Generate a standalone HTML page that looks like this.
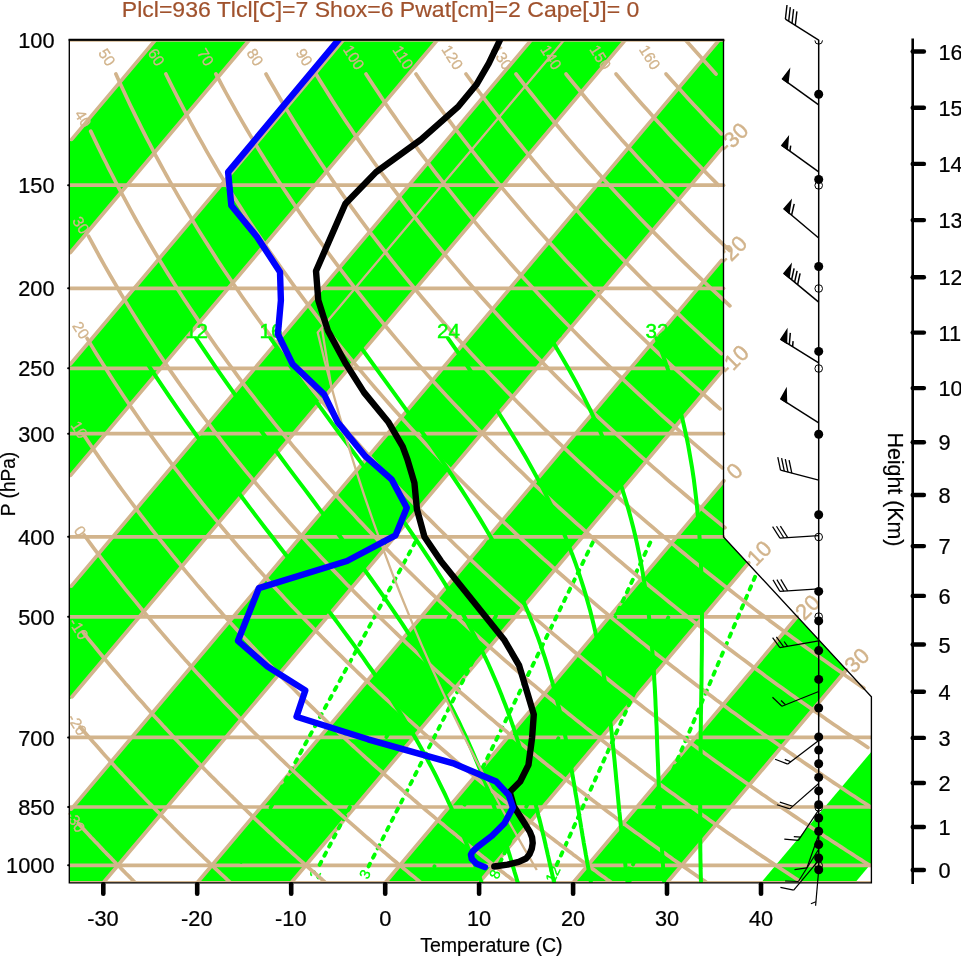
<!DOCTYPE html>
<html><head><meta charset="utf-8"><title>Skew-T</title><style>html,body{margin:0;padding:0;background:#fff}svg{display:block}</style></head><body>
<svg width="961" height="957" viewBox="0 0 961 957" font-family="Liberation Sans, sans-serif">
<rect width="961" height="957" fill="#fff"/>
<defs>
<clipPath id="cf"><polygon points="69.3,882.8 69.3,39.8 723.5,39.8 723.5,536.9 871.4,696.7 871.4,882.8"/></clipPath>
<clipPath id="cl"><polygon points="69.3,882.8 69.3,39.8 725.7,39.8 725.7,536.4 871.4,693.8 871.4,882.8"/></clipPath>
<clipPath id="cr"><rect x="69.3" y="39.8" width="802.1" height="843.0"/></clipPath>
</defs>
<g clip-path="url(#cf)" fill="#00ff00">
<polygon points="-742.4,882.8 -32.3,39.8 61.6,39.8 -648.4,882.8"/>
<polygon points="-554.4,882.8 155.6,39.8 249.5,39.8 -460.5,882.8"/>
<polygon points="-366.5,882.8 343.5,39.8 437.5,39.8 -272.6,882.8"/>
<polygon points="-178.6,882.8 531.4,39.8 625.4,39.8 -84.6,882.8"/>
<polygon points="9.3,882.8 719.3,39.8 813.3,39.8 103.3,882.8"/>
<polygon points="197.2,882.8 907.3,39.8 1001.2,39.8 291.2,882.8"/>
<polygon points="385.2,882.8 1095.2,39.8 1189.1,39.8 479.1,882.8"/>
<polygon points="573.1,882.8 1283.1,39.8 1377.1,39.8 667.0,882.8"/>
<polygon points="761.0,882.8 1471.0,39.8 1565.0,39.8 855.0,882.8"/>
</g>
<g clip-path="url(#cr)" fill="none" stroke="#d2b48c" stroke-width="3.7" stroke-linecap="round" stroke-linejoin="round">
<path d="M69.3 882.8H871.4"/>
<path d="M69.3 865.3H871.4"/>
<path d="M69.3 807.0H871.4"/>
<path d="M69.3 737.4H871.4"/>
<path d="M69.3 616.8H797.1"/>
<path d="M69.3 536.8H723.5"/>
<path d="M69.3 433.7H723.5"/>
<path d="M69.3 368.3H723.5"/>
<path d="M69.3 288.3H723.5"/>
<path d="M69.3 185.2H723.5"/>
<path d="M69.3 39.8H723.5"/>
<path d="M71.7 139.4L155.6 39.8"/>
<path d="M70.4 252.5L249.5 39.8"/>
<path d="M70.5 364.0L343.5 39.8"/>
<path d="M70.6 475.4L437.5 39.8"/>
<path d="M71.3 586.1L531.4 39.8"/>
<path d="M72.0 696.8L625.4 39.8"/>
<path d="M71.3 809.1L719.3 39.8"/>
<path d="M103.3 882.8L722.7 147.4"/>
<path d="M197.2 882.8L721.5 260.4"/>
<path d="M291.2 882.8L723.3 369.7"/>
<path d="M385.2 882.8L723.9 480.7"/>
<path d="M479.1 882.8L748.7 562.7"/>
<path d="M573.1 882.8L797.1 616.8"/>
<path d="M667.0 882.8L846.3 670.0"/>
</g>
<g fill="#d2b48c" font-size="22" text-anchor="middle" stroke="#d2b48c" stroke-width="0.45">
<text transform="translate(733.2 137.7) rotate(-45)" dy="7.6">-30</text>
<text transform="translate(732.0 250.7) rotate(-45)" dy="7.6">-20</text>
<text transform="translate(733.8 360.0) rotate(-45)" dy="7.6">-10</text>
<text transform="translate(734.4 471.0) rotate(-45)" dy="7.6">0</text>
<text transform="translate(759.2 553.0) rotate(-45)" dy="7.6">10</text>
<text transform="translate(807.6 607.1) rotate(-45)" dy="7.6">20</text>
<text transform="translate(856.8 660.3) rotate(-45)" dy="7.6">30</text>
</g>
<g clip-path="url(#cr)" fill="none" stroke="#00ff00" stroke-linecap="round" stroke-width="3.9" stroke-dasharray="3.5 6.8" stroke-dashoffset="4.1">
<path d="M757.5 571.0L632.2 866.4"/>
<path d="M704.7 536.8L556.0 866.4"/>
<path d="M652.9 536.8L498.3 866.4"/>
<path d="M595.5 536.8L434.4 866.4"/>
<path d="M536.1 536.8L368.6 866.4"/>
<path d="M491.1 536.8L318.8 866.4"/>
<path d="M418.2 536.8L238.6 866.4"/>
</g>
<g fill="#00ff00" font-size="14.5" text-anchor="middle" clip-path="url(#cf)" stroke="#00ff00" stroke-width="0.3">
<text transform="translate(629.0 874.2) rotate(-65)" dy="5.2">20</text>
<text transform="translate(552.7 874.2) rotate(-65)" dy="5.2">12</text>
<text transform="translate(494.8 874.2) rotate(-65)" dy="5.2">8</text>
<text transform="translate(430.8 874.2) rotate(-65)" dy="5.2">5</text>
<text transform="translate(364.8 874.2) rotate(-65)" dy="5.2">3</text>
<text transform="translate(314.9 874.2) rotate(-65)" dy="5.2">2</text>
<text transform="translate(234.5 874.2) rotate(-65)" dy="5.2">1</text>
</g>
<g clip-path="url(#cr)" fill="none" stroke="#d2b48c" stroke-width="3.7" stroke-linecap="round" stroke-linejoin="round">
<path d="M78.4 823.5L80.2 825.5L82.1 827.5L83.9 829.5L85.7 831.5L87.6 833.5L89.4 835.4L91.2 837.4L93.0 839.3L94.8 841.2L96.7 843.1L98.5 845.0L100.3 846.9L102.0 848.8L103.8 850.7L105.6 852.5L107.4 854.4L109.2 856.2L111.0 858.1L112.7 859.9L114.5 861.7L116.2 863.5L118.0 865.3L119.8 867.1L121.5 868.9L123.2 870.6L125.0 872.4L126.7 874.2L128.5 875.9L130.2 877.6L131.9 879.4L133.6 881.1L135.3 882.8"/>
<path d="M80.2 727.0L82.5 729.7L84.7 732.3L87.0 734.9L89.2 737.4L91.4 740.0L93.6 742.5L95.9 745.0L98.1 747.5L100.3 750.0L102.4 752.5L104.6 754.9L106.8 757.4L109.0 759.8L111.1 762.2L113.3 764.6L115.4 766.9L117.6 769.3L119.7 771.6L121.9 773.9L124.0 776.2L126.1 778.5L128.2 780.8L130.3 783.1L132.4 785.3L134.5 787.5L136.6 789.8L138.7 792.0L140.8 794.2L142.8 796.3L144.9 798.5L147.0 800.7L149.0 802.8L151.1 804.9L153.1 807.0L155.2 809.1L157.2 811.2L159.2 813.3L161.2 815.4L163.2 817.4L165.3 819.5L167.3 821.5L169.3 823.5L171.3 825.5L173.2 827.5L175.2 829.5L177.2 831.5L179.2 833.5L181.1 835.4L183.1 837.4L185.1 839.3L187.0 841.2L189.0 843.1L190.9 845.0L192.8 846.9L194.8 848.8L196.7 850.7L198.6 852.5L200.6 854.4L202.5 856.2L204.4 858.1L206.3 859.9L208.2 861.7L210.1 863.5L212.0 865.3L213.9 867.1L215.7 868.9L217.6 870.6L219.5 872.4L221.3 874.2L223.2 875.9L225.1 877.6L226.9 879.4L228.8 881.1L230.6 882.8"/>
<path d="M83.1 632.3L85.8 635.7L88.5 639.1L91.2 642.4L93.9 645.7L96.6 649.0L99.3 652.3L101.9 655.5L104.6 658.7L107.2 661.9L109.8 665.0L112.5 668.2L115.1 671.3L117.7 674.3L120.3 677.4L122.9 680.4L125.4 683.4L128.0 686.3L130.5 689.3L133.1 692.2L135.6 695.1L138.1 698.0L140.7 700.8L143.2 703.6L145.7 706.4L148.2 709.2L150.6 712.0L153.1 714.7L155.6 717.4L158.0 720.1L160.5 722.8L162.9 725.5L165.4 728.1L167.8 730.7L170.2 733.3L172.6 735.9L175.0 738.5L177.4 741.0L179.8 743.5L182.2 746.0L184.6 748.5L186.9 751.0L189.3 753.5L191.6 755.9L194.0 758.3L196.3 760.7L198.6 763.1L200.9 765.5L203.2 767.9L205.5 770.2L207.8 772.5L210.1 774.9L212.4 777.2L214.7 779.4L217.0 781.7L219.2 784.0L221.5 786.2L223.7 788.4L226.0 790.6L228.2 792.8L230.4 795.0L232.7 797.2L234.9 799.4L237.1 801.5L239.3 803.7L241.5 805.8L243.7 807.9L245.9 810.0L248.1 812.1L250.2 814.1L252.4 816.2L254.6 818.3L256.7 820.3L258.9 822.3L261.0 824.3L263.1 826.3L265.3 828.3L267.4 830.3L269.5 832.3L271.6 834.2L273.7 836.2L275.8 838.1L277.9 840.1L280.0 842.0L282.1 843.9L284.2 845.8L286.3 847.7L288.3 849.6L290.4 851.4L292.5 853.3L294.5 855.1L296.6 857.0L298.6 858.8L300.6 860.6L302.7 862.4L304.7 864.2L306.7 866.0L308.8 867.8L310.8 869.6L312.8 871.4L314.8 873.1L316.8 874.9L318.8 876.6L320.8 878.3L322.7 880.1L324.7 881.8"/>
<path d="M84.1 535.0L87.4 539.5L90.6 543.9L93.9 548.3L97.1 552.6L100.3 556.9L103.5 561.1L106.7 565.2L109.9 569.4L113.0 573.4L116.2 577.4L119.3 581.4L122.4 585.4L125.5 589.3L128.6 593.1L131.7 596.9L134.8 600.7L137.8 604.4L140.8 608.1L143.9 611.8L146.9 615.4L149.9 619.0L152.8 622.5L155.8 626.0L158.8 629.5L161.7 632.9L164.6 636.3L167.6 639.7L170.5 643.1L173.4 646.4L176.3 649.7L179.1 652.9L182.0 656.2L184.8 659.4L187.7 662.5L190.5 665.7L193.3 668.8L196.1 671.9L198.9 674.9L201.7 678.0L204.5 681.0L207.3 684.0L210.0 686.9L212.7 689.9L215.5 692.8L218.2 695.7L220.9 698.5L223.6 701.4L226.3 704.2L229.0 707.0L231.7 709.8L234.3 712.5L237.0 715.3L239.6 718.0L242.3 720.7L244.9 723.3L247.5 726.0L250.1 728.6L252.7 731.2L255.3 733.8L257.9 736.4L260.5 739.0L263.0 741.5L265.6 744.0L268.1 746.5L270.7 749.0L273.2 751.5L275.7 754.0L278.2 756.4L280.7 758.8L283.2 761.2L285.7 763.6L288.2 766.0L290.7 768.3L293.1 770.7L295.6 773.0L298.1 775.3L300.5 777.6L302.9 779.9L305.4 782.2L307.8 784.4L310.2 786.7L312.6 788.9L315.0 791.1L317.4 793.3L319.8 795.5L322.1 797.6L324.5 799.8L326.9 801.9L329.2 804.1L331.6 806.2L333.9 808.3L336.2 810.4L338.6 812.5L340.9 814.6L343.2 816.6L345.5 818.7L347.8 820.7L350.1 822.7L352.4 824.7L354.7 826.7L357.0 828.7L359.2 830.7L361.5 832.7L363.7 834.6L366.0 836.6L368.2 838.5L370.5 840.4L372.7 842.4L374.9 844.3L377.1 846.2L379.4 848.1L381.6 849.9L383.8 851.8L386.0 853.6L388.2 855.5L390.3 857.3L392.5 859.2L394.7 861.0L396.9 862.8L399.0 864.6L401.2 866.4L403.3 868.2L405.5 869.9L407.6 871.7L409.7 873.5L411.9 875.2L414.0 876.9L416.1 878.7L418.2 880.4L420.3 882.1"/>
<path d="M84.6 436.1L88.5 442.0L92.4 447.7L96.3 453.4L100.2 459.1L104.0 464.6L107.8 470.0L111.6 475.4L115.4 480.7L119.1 485.9L122.9 491.0L126.6 496.0L130.3 501.0L134.0 505.9L137.6 510.8L141.2 515.6L144.9 520.3L148.5 525.0L152.0 529.6L155.6 534.1L159.1 538.6L162.7 543.0L166.2 547.4L169.7 551.7L173.1 556.0L176.6 560.2L180.0 564.4L183.4 568.5L186.8 572.6L190.2 576.6L193.6 580.6L196.9 584.6L200.3 588.5L203.6 592.3L206.9 596.2L210.2 599.9L213.5 603.7L216.7 607.4L220.0 611.0L223.2 614.7L226.4 618.2L229.6 621.8L232.8 625.3L236.0 628.8L239.2 632.3L242.3 635.7L245.4 639.1L248.6 642.4L251.7 645.7L254.8 649.0L257.8 652.3L260.9 655.5L264.0 658.7L267.0 661.9L270.0 665.0L273.1 668.2L276.1 671.3L279.1 674.3L282.0 677.4L285.0 680.4L288.0 683.4L290.9 686.3L293.9 689.3L296.8 692.2L299.7 695.1L302.6 698.0L305.5 700.8L308.4 703.6L311.2 706.4L314.1 709.2L317.0 712.0L319.8 714.7L322.6 717.4L325.4 720.1L328.2 722.8L331.0 725.5L333.8 728.1L336.6 730.7L339.4 733.3L342.1 735.9L344.9 738.5L347.6 741.0L350.3 743.5L353.1 746.0L355.8 748.5L358.5 751.0L361.2 753.5L363.8 755.9L366.5 758.3L369.2 760.7L371.8 763.1L374.5 765.5L377.1 767.9L379.8 770.2L382.4 772.5L385.0 774.9L387.6 777.2L390.2 779.4L392.8 781.7L395.4 784.0L397.9 786.2L400.5 788.4L403.0 790.6L405.6 792.8L408.1 795.0L410.7 797.2L413.2 799.4L415.7 801.5L418.2 803.7L420.7 805.8L423.2 807.9L425.7 810.0L428.2 812.1L430.6 814.1L433.1 816.2L435.6 818.3L438.0 820.3L440.4 822.3L442.9 824.3L445.3 826.3L447.7 828.3L450.1 830.3L452.6 832.3L455.0 834.2L457.3 836.2L459.7 838.1L462.1 840.1L464.5 842.0L466.9 843.9L469.2 845.8L471.6 847.7L473.9 849.6L476.3 851.4L478.6 853.3L480.9 855.1L483.2 857.0L485.6 858.8L487.9 860.6L490.2 862.4L492.5 864.2L494.8 866.0L497.0 867.8L499.3 869.6L501.6 871.4L503.9 873.1L506.1 874.9L508.4 876.6L510.6 878.3L512.9 880.1L515.1 881.8"/>
<path d="M87.1 338.4L91.8 346.1L96.4 353.7L101.0 361.1L105.6 368.3L110.1 375.4L114.6 382.4L119.1 389.2L123.5 395.9L127.9 402.5L132.3 408.9L136.7 415.3L141.0 421.5L145.3 427.7L149.6 433.7L153.9 439.6L158.1 445.4L162.3 451.2L166.5 456.8L170.6 462.4L174.7 467.9L178.8 473.2L182.9 478.6L187.0 483.8L191.0 488.9L195.0 494.0L199.0 499.0L202.9 504.0L206.9 508.9L210.8 513.7L214.7 518.4L218.6 523.1L222.4 527.7L226.2 532.3L230.0 536.8L233.8 541.3L237.6 545.7L241.3 550.0L245.1 554.3L248.8 558.6L252.5 562.7L256.1 566.9L259.8 571.0L263.4 575.0L267.0 579.0L270.6 583.0L274.2 586.9L277.8 590.8L281.3 594.6L284.8 598.4L288.4 602.2L291.8 605.9L295.3 609.6L298.8 613.2L302.2 616.8L305.7 620.4L309.1 623.9L312.5 627.4L315.8 630.9L319.2 634.3L322.6 637.7L325.9 641.1L329.2 644.4L332.5 647.7L335.8 651.0L339.1 654.2L342.4 657.4L345.6 660.6L348.9 663.8L352.1 666.9L355.3 670.0L358.5 673.1L361.7 676.2L364.8 679.2L368.0 682.2L371.1 685.2L374.3 688.1L377.4 691.0L380.5 693.9L383.6 696.8L386.7 699.7L389.8 702.5L392.8 705.3L395.9 708.1L398.9 710.9L401.9 713.6L404.9 716.3L407.9 719.1L410.9 721.7L413.9 724.4L416.9 727.0L419.8 729.7L422.8 732.3L425.7 734.9L428.6 737.4L431.5 740.0L434.5 742.5L437.3 745.0L440.2 747.5L443.1 750.0L446.0 752.5L448.8 754.9L451.7 757.4L454.5 759.8L457.3 762.2L460.1 764.6L462.9 766.9L465.7 769.3L468.5 771.6L471.3 773.9L474.1 776.2L476.8 778.5L479.6 780.8L482.3 783.1L485.1 785.3L487.8 787.5L490.5 789.8L493.2 792.0L495.9 794.2L498.6 796.3L501.3 798.5L503.9 800.7L506.6 802.8L509.3 804.9L511.9 807.0L514.5 809.1L517.2 811.2L519.8 813.3L522.4 815.4L525.0 817.4L527.6 819.5L530.2 821.5L532.8 823.5L535.4 825.5L537.9 827.5L540.5 829.5L543.1 831.5L545.6 833.5L548.1 835.4L550.7 837.4L553.2 839.3L555.7 841.2L558.2 843.1L560.7 845.0L563.2 846.9L565.7 848.8L568.2 850.7L570.7 852.5L573.1 854.4L575.6 856.2L578.1 858.1L580.5 859.9L582.9 861.7L585.4 863.5L587.8 865.3L590.2 867.1L592.6 868.9L595.1 870.6L597.5 872.4L599.8 874.2L602.2 875.9L604.6 877.6L607.0 879.4L609.4 881.1L611.7 882.8"/>
<path d="M88.6 236.3L94.1 246.5L99.5 256.5L104.9 266.1L110.3 275.5L115.7 284.7L120.9 293.7L126.2 302.4L131.4 310.9L136.6 319.2L141.7 327.3L146.8 335.3L151.9 343.1L156.9 350.7L161.9 358.1L166.8 365.4L171.7 372.6L176.6 379.6L181.4 386.5L186.3 393.2L191.0 399.9L195.8 406.4L200.5 412.8L205.1 419.0L209.8 425.2L214.4 431.3L219.0 437.2L223.5 443.1L228.0 448.9L232.5 454.6L237.0 460.2L241.4 465.7L245.8 471.1L250.2 476.4L254.6 481.7L258.9 486.9L263.2 492.0L267.5 497.0L271.7 502.0L275.9 506.9L280.1 511.8L284.3 516.5L288.4 521.2L292.6 525.9L296.7 530.5L300.7 535.0L304.8 539.5L308.8 543.9L312.8 548.3L316.8 552.6L320.8 556.9L324.7 561.1L328.6 565.2L332.5 569.4L336.4 573.4L340.3 577.4L344.1 581.4L347.9 585.4L351.8 589.3L355.5 593.1L359.3 596.9L363.0 600.7L366.8 604.4L370.5 608.1L374.2 611.8L377.8 615.4L381.5 619.0L385.1 622.5L388.8 626.0L392.4 629.5L395.9 632.9L399.5 636.3L403.1 639.7L406.6 643.1L410.1 646.4L413.6 649.7L417.1 652.9L420.6 656.2L424.1 659.4L427.5 662.5L430.9 665.7L434.3 668.8L437.7 671.9L441.1 674.9L444.5 678.0L447.9 681.0L451.2 684.0L454.5 686.9L457.8 689.9L461.1 692.8L464.4 695.7L467.7 698.5L471.0 701.4L474.2 704.2L477.5 707.0L480.7 709.8L483.9 712.5L487.1 715.3L490.3 718.0L493.5 720.7L496.6 723.3L499.8 726.0L502.9 728.6L506.0 731.2L509.1 733.8L512.3 736.4L515.3 739.0L518.4 741.5L521.5 744.0L524.6 746.5L527.6 749.0L530.6 751.5L533.7 754.0L536.7 756.4L539.7 758.8L542.7 761.2L545.7 763.6L548.6 766.0L551.6 768.3L554.5 770.7L557.5 773.0L560.4 775.3L563.3 777.6L566.3 779.9L569.2 782.2L572.1 784.4L574.9 786.7L577.8 788.9L580.7 791.1L583.5 793.3L586.4 795.5L589.2 797.6L592.0 799.8L594.9 801.9L597.7 804.1L600.5 806.2L603.3 808.3L606.1 810.4L608.8 812.5L611.6 814.6L614.4 816.6L617.1 818.7L619.9 820.7L622.6 822.7L625.3 824.7L628.0 826.7L630.7 828.7L633.4 830.7L636.1 832.7L638.8 834.6L641.5 836.6L644.2 838.5L646.8 840.4L649.5 842.4L652.1 844.3L654.8 846.2L657.4 848.1L660.0 849.9L662.6 851.8L665.2 853.6L667.8 855.5L670.4 857.3L673.0 859.2L675.6 861.0L678.2 862.8L680.7 864.6L683.3 866.4L685.9 868.2L688.4 869.9L690.9 871.7L693.5 873.5L696.0 875.2L698.5 876.9L701.0 878.7L703.5 880.4L706.0 882.1"/>
<path d="M90.7 131.1L93.3 136.6L95.9 142.1L98.4 147.4L101.0 152.7L103.5 157.9L106.1 163.0L108.6 168.1L111.1 173.0L113.6 177.9L116.1 182.8L118.6 187.6L124.8 199.2L131.0 210.6L137.0 221.5L143.1 232.2L149.1 242.5L155.0 252.5L160.9 262.3L166.7 271.8L172.5 281.1L178.2 290.1L183.9 298.9L189.6 307.5L195.2 315.9L200.7 324.1L206.2 332.1L211.7 340.0L217.1 347.7L222.5 355.2L227.8 362.5L233.1 369.7L238.3 376.8L243.5 383.8L248.7 390.6L253.8 397.2L258.9 403.8L264.0 410.2L269.0 416.5L274.0 422.8L278.9 428.9L283.8 434.9L288.7 440.8L293.5 446.6L298.4 452.3L303.1 457.9L307.9 463.5L312.6 468.9L317.3 474.3L321.9 479.6L326.5 484.8L331.1 490.0L335.7 495.0L340.2 500.0L344.7 505.0L349.2 509.8L353.7 514.6L358.1 519.4L362.5 524.0L366.9 528.7L371.2 533.2L375.5 537.7L379.8 542.2L384.1 546.5L388.4 550.9L392.6 555.2L396.8 559.4L401.0 563.6L405.1 567.7L409.2 571.8L413.3 575.8L417.4 579.8L421.5 583.8L425.5 587.7L429.6 591.6L433.6 595.4L437.6 599.2L441.5 602.9L445.5 606.6L449.4 610.3L453.3 613.9L457.2 617.5L461.0 621.1L464.9 624.6L468.7 628.1L472.5 631.6L476.3 635.0L480.1 638.4L483.8 641.7L487.6 645.1L491.3 648.4L495.0 651.6L498.7 654.9L502.3 658.1L506.0 661.3L509.6 664.4L513.2 667.5L516.8 670.6L520.4 673.7L524.0 676.8L527.6 679.8L531.1 682.8L534.6 685.7L538.1 688.7L541.6 691.6L545.1 694.5L548.6 697.4L552.1 700.2L555.5 703.1L558.9 705.9L562.3 708.7L565.7 711.4L569.1 714.2L572.5 716.9L575.8 719.6L579.2 722.3L582.5 724.9L585.8 727.6L589.2 730.2L592.4 732.8L595.7 735.4L599.0 738.0L602.3 740.5L605.5 743.0L608.7 745.5L612.0 748.0L615.2 750.5L618.4 753.0L621.6 755.4L624.7 757.8L627.9 760.3L631.0 762.7L634.2 765.0L637.3 767.4L640.4 769.7L643.5 772.1L646.6 774.4L649.7 776.7L652.8 779.0L655.9 781.3L658.9 783.5L662.0 785.8L665.0 788.0L668.0 790.2L671.1 792.4L674.1 794.6L677.1 796.8L680.0 798.9L683.0 801.1L686.0 803.2L688.9 805.4L691.9 807.5L694.8 809.6L697.8 811.7L700.7 813.7L703.6 815.8L706.5 817.8L709.4 819.9L712.3 821.9L715.1 823.9L718.0 825.9L720.9 827.9L723.7 829.9L726.5 831.9L729.4 833.9L732.2 835.8L735.0 837.7L737.8 839.7L740.6 841.6L743.4 843.5L746.2 845.4L749.0 847.3L751.7 849.2L754.5 851.0L757.2 852.9L760.0 854.8L762.7 856.6L765.4 858.4L768.2 860.3L770.9 862.1L773.6 863.9L776.3 865.7L779.0 867.5L781.6 869.2L784.3 871.0L787.0 872.8L789.6 874.5L792.3 876.3L794.9 878.0L797.6 879.7L800.2 881.4"/>
<path d="M115.9 74.0L118.8 80.5L121.7 86.8L124.6 93.0L127.5 99.2L130.3 105.2L133.2 111.1L136.0 116.9L138.9 122.7L141.7 128.3L144.5 133.9L147.3 139.4L150.1 144.7L152.9 150.1L155.6 155.3L158.4 160.5L161.1 165.5L163.9 170.6L166.6 175.5L169.3 180.4L172.0 185.2L178.7 196.9L185.4 208.3L192.0 219.4L198.5 230.1L205.0 240.4L211.4 250.5L217.7 260.4L224.0 269.9L230.3 279.2L236.4 288.3L242.5 297.2L248.6 305.8L254.6 314.2L260.6 322.5L266.5 330.5L272.3 338.4L278.1 346.1L283.9 353.7L289.6 361.1L295.3 368.3L300.9 375.4L306.4 382.4L312.0 389.2L317.4 395.9L322.9 402.5L328.3 408.9L333.6 415.3L338.9 421.5L344.2 427.7L349.5 433.7L354.7 439.6L359.8 445.4L364.9 451.2L370.0 456.8L375.1 462.4L380.1 467.9L385.1 473.2L390.0 478.6L395.0 483.8L399.8 488.9L404.7 494.0L409.5 499.0L414.3 504.0L419.1 508.9L423.8 513.7L428.5 518.4L433.2 523.1L437.8 527.7L442.4 532.3L447.0 536.8L451.6 541.3L456.1 545.7L460.6 550.0L465.1 554.3L469.5 558.6L473.9 562.7L478.4 566.9L482.7 571.0L487.1 575.0L491.4 579.0L495.7 583.0L500.0 586.9L504.3 590.8L508.5 594.6L512.7 598.4L516.9 602.2L521.1 605.9L525.2 609.6L529.4 613.2L533.5 616.8L537.5 620.4L541.6 623.9L545.7 627.4L549.7 630.9L553.7 634.3L557.7 637.7L561.7 641.1L565.6 644.4L569.5 647.7L573.4 651.0L577.3 654.2L581.2 657.4L585.1 660.6L588.9 663.8L592.7 666.9L596.5 670.0L600.3 673.1L604.1 676.2L607.9 679.2L611.6 682.2L615.3 685.2L619.0 688.1L622.7 691.0L626.4 693.9L630.1 696.8L633.7 699.7L637.3 702.5L640.9 705.3L644.5 708.1L648.1 710.9L651.7 713.6L655.3 716.3L658.8 719.1L662.3 721.7L665.8 724.4L669.3 727.0L672.8 729.7L676.3 732.3L679.8 734.9L683.2 737.4L686.6 740.0L690.1 742.5L693.5 745.0L696.9 747.5L700.2 750.0L703.6 752.5L707.0 754.9L710.3 757.4L713.6 759.8L717.0 762.2L720.3 764.6L723.6 766.9L726.9 769.3L730.1 771.6L733.4 773.9L736.6 776.2L739.9 778.5L743.1 780.8L746.3 783.1L749.5 785.3L752.7 787.5L755.9 789.8L759.1 792.0L762.2 794.2L765.4 796.3L768.5 798.5L771.7 800.7L774.8 802.8L777.9 804.9L781.0 807.0L784.1 809.1L787.2 811.2L790.2 813.3L793.3 815.4L796.3 817.4L799.4 819.5L802.4 821.5L805.4 823.5L808.5 825.5L811.5 827.5L814.5 829.5L817.4 831.5L820.4 833.5L823.4 835.4L826.3 837.4L829.3 839.3L832.2 841.2L835.2 843.1L838.1 845.0L841.0 846.9L843.9 848.8L846.8 850.7L849.7 852.5L852.6 854.4L855.4 856.2L858.3 858.1L861.2 859.9L864.0 861.7L866.9 863.5L869.7 865.3"/>
<path d="M165.9 74.0L169.1 80.5L172.2 86.8L175.4 93.0L178.5 99.2L181.6 105.2L184.7 111.1L187.8 116.9L190.8 122.7L193.9 128.3L196.9 133.9L200.0 139.4L203.0 144.7L206.0 150.1L209.0 155.3L212.0 160.5L214.9 165.5L217.9 170.6L220.8 175.5L223.7 180.4L226.7 185.2L233.9 196.9L241.1 208.3L248.1 219.4L255.1 230.1L262.1 240.4L269.0 250.5L275.8 260.4L282.5 269.9L289.2 279.2L295.8 288.3L302.3 297.2L308.8 305.8L315.2 314.2L321.5 322.5L327.8 330.5L334.1 338.4L340.3 346.1L346.4 353.7L352.5 361.1L358.5 368.3L364.5 375.4L370.4 382.4L376.3 389.2L382.1 395.9L387.9 402.5L393.6 408.9L399.3 415.3L404.9 421.5L410.5 427.7L416.1 433.7L421.6 439.6L427.1 445.4L432.5 451.2L437.9 456.8L443.2 462.4L448.6 467.9L453.8 473.2L459.1 478.6L464.3 483.8L469.4 488.9L474.6 494.0L479.7 499.0L484.7 504.0L489.8 508.9L494.8 513.7L499.8 518.4L504.7 523.1L509.6 527.7L514.5 532.3L519.3 536.8L524.1 541.3L528.9 545.7L533.7 550.0L538.4 554.3L543.1 558.6L547.8 562.7L552.4 566.9L557.0 571.0L561.6 575.0L566.2 579.0L570.7 583.0L575.3 586.9L579.8 590.8L584.2 594.6L588.7 598.4L593.1 602.2L597.5 605.9L601.9 609.6L606.2 613.2L610.5 616.8L614.8 620.4L619.1 623.9L623.4 627.4L627.6 630.9L631.9 634.3L636.1 637.7L640.2 641.1L644.4 644.4L648.5 647.7L652.6 651.0L656.7 654.2L660.8 657.4L664.9 660.6L668.9 663.8L673.0 666.9L677.0 670.0L680.9 673.1L684.9 676.2L688.9 679.2L692.8 682.2L696.7 685.2L700.6 688.1L704.5 691.0L708.4 693.9L712.2 696.8L716.0 699.7L719.9 702.5L723.7 705.3L727.4 708.1L731.2 710.9L735.0 713.6L738.7 716.3L742.4 719.1L746.1 721.7L749.8 724.4L753.5 727.0L757.2 729.7L760.8 732.3L764.4 734.9L768.1 737.4L771.7 740.0L775.3 742.5L778.8 745.0L782.4 747.5L786.0 750.0L789.5 752.5L793.0 754.9L796.5 757.4L800.0 759.8L803.5 762.2L807.0 764.6L810.4 766.9L813.9 769.3L817.3 771.6L820.7 773.9L824.2 776.2L827.6 778.5L830.9 780.8L834.3 783.1L837.7 785.3L841.0 787.5L844.4 789.8L847.7 792.0L851.0 794.2L854.3 796.3L857.6 798.5L860.9 800.7L864.2 802.8L867.4 804.9L870.7 807.0"/>
<path d="M215.9 74.0L219.4 80.5L222.8 86.8L226.1 93.0L229.5 99.2L232.9 105.2L236.2 111.1L239.5 116.9L242.8 122.7L246.1 128.3L249.4 133.9L252.7 139.4L255.9 144.7L259.1 150.1L262.3 155.3L265.5 160.5L268.7 165.5L271.9 170.6L275.0 175.5L278.2 180.4L281.3 185.2L289.1 196.9L296.7 208.3L304.3 219.4L311.8 230.1L319.2 240.4L326.5 250.5L333.8 260.4L340.9 269.9L348.0 279.2L355.1 288.3L362.0 297.2L368.9 305.8L375.7 314.2L382.5 322.5L389.2 330.5L395.8 338.4L402.4 346.1L408.9 353.7L415.3 361.1L421.7 368.3L428.0 375.4L434.3 382.4L440.5 389.2L446.7 395.9L452.8 402.5L458.9 408.9L464.9 415.3L470.9 421.5L476.8 427.7L482.7 433.7L488.5 439.6L494.3 445.4L500.0 451.2L505.7 456.8L511.4 462.4L517.0 467.9L522.6 473.2L528.1 478.6L533.6 483.8L539.1 488.9L544.5 494.0L549.9 499.0L555.2 504.0L560.5 508.9L565.8 513.7L571.0 518.4L576.2 523.1L581.4 527.7L586.5 532.3L591.6 536.8L596.7 541.3L601.7 545.7L606.8 550.0L611.7 554.3L616.7 558.6L621.6 562.7L626.5 566.9L631.4 571.0L636.2 575.0L641.0 579.0L645.8 583.0L650.5 586.9L655.3 590.8L660.0 594.6L664.6 598.4L669.3 602.2L673.9 605.9L678.5 609.6L683.1 613.2L687.6 616.8L692.1 620.4L696.6 623.9L701.1 627.4L705.6 630.9L710.0 634.3L714.4 637.7L718.8 641.1L723.2 644.4L727.5 647.7L731.9 651.0L736.2 654.2L740.4 657.4L744.7 660.6L749.0 663.8L753.2 666.9L757.4 670.0L761.6 673.1L765.7 676.2L769.9 679.2L774.0 682.2L778.1 685.2L782.2 688.1L786.3 691.0L790.3 693.9L794.4 696.8L798.4 699.7L802.4 702.5L806.4 705.3L810.3 708.1L814.3 710.9L818.2 713.6L822.1 716.3L826.0 719.1L829.9 721.7L833.8 724.4L837.7 727.0L841.5 729.7L845.3 732.3L849.1 734.9L852.9 737.4L856.7 740.0L860.5 742.5L864.2 745.0L867.9 747.5"/>
<path d="M266.0 74.0L269.6 80.5L273.3 86.8L276.9 93.0L280.5 99.2L284.1 105.2L287.7 111.1L291.3 116.9L294.8 122.7L298.3 128.3L301.9 133.9L305.3 139.4L308.8 144.7L312.3 150.1L315.7 155.3L319.1 160.5L322.5 165.5L325.9 170.6L329.3 175.5L332.6 180.4L336.0 185.2L344.2 196.9L352.4 208.3L360.4 219.4L368.4 230.1L376.3 240.4L384.1 250.5L391.8 260.4L399.4 269.9L406.9 279.2L414.4 288.3L421.8 297.2L429.1 305.8L436.3 314.2L443.5 322.5L450.5 330.5L457.6 338.4L464.5 346.1L471.4 353.7L478.2 361.1L484.9 368.3L491.6 375.4L498.3 382.4L504.8 389.2L511.3 395.9L517.8 402.5L524.2 408.9L530.6 415.3L536.9 421.5L543.1 427.7L549.3 433.7L555.4 439.6L561.5 445.4L567.6 451.2L573.6 456.8L579.5 462.4L585.5 467.9L591.3 473.2L597.1 478.6L602.9 483.8L608.7 488.9L614.4 494.0L620.0 499.0L625.7 504.0L631.2 508.9L636.8 513.7L642.3 518.4L647.8 523.1L653.2 527.7L658.6 532.3L664.0 536.8L669.3 541.3L674.6 545.7L679.8 550.0L685.1 554.3L690.3 558.6L695.4 562.7L700.6 566.9L705.7 571.0L710.7 575.0L715.8 579.0L720.8 583.0L725.8 586.9L730.8 590.8L735.7 594.6L740.6 598.4L745.5 602.2L750.3 605.9L755.1 609.6L759.9 613.2L764.7 616.8L769.4 620.4L774.2 623.9L778.9 627.4L783.5 630.9L788.2 634.3L792.8 637.7L797.4 641.1L802.0 644.4L806.5 647.7L811.1 651.0L815.6 654.2L820.1 657.4L824.5 660.6L829.0 663.8L833.4 666.9L837.8 670.0L842.2 673.1L846.5 676.2L850.9 679.2L855.2 682.2L859.5 685.2L863.8 688.1"/>
<path d="M316.0 74.0L319.9 80.5L323.8 86.8L327.7 93.0L331.6 99.2L335.4 105.2L339.2 111.1L343.0 116.9L346.8 122.7L350.6 128.3L354.3 133.9L358.0 139.4L361.7 144.7L365.4 150.1L369.1 155.3L372.7 160.5L376.3 165.5L379.9 170.6L383.5 175.5L387.1 180.4L390.6 185.2L399.4 196.9L408.0 208.3L416.6 219.4L425.0 230.1L433.4 240.4L441.7 250.5L449.8 260.4L457.9 269.9L465.8 279.2L473.7 288.3L481.5 297.2L489.2 305.8L496.9 314.2L504.4 322.5L511.9 330.5L519.3 338.4L526.6 346.1L533.9 353.7L541.1 361.1L548.2 368.3L555.2 375.4L562.2 382.4L569.1 389.2L576.0 395.9L582.8 402.5L589.5 408.9L596.2 415.3L602.8 421.5L609.4 427.7L615.9 433.7L622.4 439.6L628.8 445.4L635.1 451.2L641.4 456.8L647.7 462.4L653.9 467.9L660.1 473.2L666.2 478.6L672.3 483.8L678.3 488.9L684.3 494.0L690.2 499.0L696.1 504.0L702.0 508.9L707.8 513.7L713.5 518.4L719.3 523.1L725.0 527.7"/>
<path d="M366.0 74.0L370.2 80.5L374.3 86.8L378.5 93.0L382.6 99.2L386.7 105.2L390.7 111.1L394.8 116.9L398.8 122.7L402.8 128.3L406.8 133.9L410.7 139.4L414.6 144.7L418.5 150.1L422.4 155.3L426.3 160.5L430.1 165.5L433.9 170.6L437.7 175.5L441.5 180.4L445.2 185.2L454.5 196.9L463.7 208.3L472.7 219.4L481.7 230.1L490.5 240.4L499.2 250.5L507.8 260.4L516.3 269.9L524.7 279.2L533.1 288.3L541.3 297.2L549.4 305.8L557.4 314.2L565.4 322.5L573.3 330.5L581.0 338.4L588.7 346.1L596.4 353.7L603.9 361.1L611.4 368.3L618.8 375.4L626.2 382.4L633.4 389.2L640.6 395.9L647.8 402.5L654.8 408.9L661.8 415.3L668.8 421.5L675.7 427.7L682.5 433.7L689.3 439.6L696.0 445.4L702.7 451.2L709.3 456.8L715.8 462.4L722.4 467.9"/>
<path d="M416.0 74.0L420.4 80.5L424.9 86.8L429.2 93.0L433.6 99.2L437.9 105.2L442.3 111.1L446.5 116.9L450.8 122.7L455.0 128.3L459.2 133.9L463.4 139.4L467.5 144.7L471.7 150.1L475.8 155.3L479.8 160.5L483.9 165.5L487.9 170.6L491.9 175.5L495.9 180.4L499.9 185.2L509.7 196.9L519.4 208.3L528.9 219.4L538.3 230.1L547.6 240.4L556.8 250.5L565.8 260.4L574.8 269.9L583.6 279.2L592.4 288.3L601.0 297.2L609.6 305.8L618.0 314.2L626.3 322.5L634.6 330.5L642.8 338.4L650.9 346.1L658.9 353.7L666.8 361.1L674.6 368.3L682.4 375.4L690.1 382.4L697.7 389.2L705.3 395.9L712.7 402.5L720.1 408.9"/>
<path d="M466.0 74.0L470.7 80.5L475.4 86.8L480.0 93.0L484.6 99.2L489.2 105.2L493.8 111.1L498.3 116.9L502.8 122.7L507.2 128.3L511.7 133.9L516.1 139.4L520.5 144.7L524.8 150.1L529.1 155.3L533.4 160.5L537.7 165.5L541.9 170.6L546.2 175.5L550.4 180.4L554.5 185.2L564.8 196.9L575.0 208.3L585.1 219.4L595.0 230.1L604.7 240.4L614.4 250.5L623.9 260.4L633.3 269.9L642.5 279.2L651.7 288.3L660.8 297.2L669.7 305.8L678.6 314.2L687.3 322.5L696.0 330.5L704.5 338.4L713.0 346.1L721.4 353.7"/>
<path d="M516.0 74.0L521.0 80.5L525.9 86.8L530.8 93.0L535.7 99.2L540.5 105.2L545.3 111.1L550.0 116.9L554.8 122.7L559.5 128.3L564.1 133.9L568.8 139.4L573.4 144.7L577.9 150.1L582.5 155.3L587.0 160.5L591.5 165.5L596.0 170.6L600.4 175.5L604.8 180.4L609.2 185.2L620.0 196.9L630.7 208.3L641.2 219.4L651.6 230.1L661.8 240.4L671.9 250.5L681.9 260.4L691.7 269.9L701.4 279.2L711.0 288.3L720.5 297.2L729.9 305.8"/>
<path d="M566.0 74.0L571.2 80.5L576.4 86.8L581.6 93.0L586.7 99.2L591.8 105.2L596.8 111.1L601.8 116.9L606.8 122.7L611.7 128.3L616.6 133.9L621.4 139.4L626.3 144.7L631.1 150.1L635.8 155.3L640.6 160.5L645.3 165.5L650.0 170.6L654.6 175.5L659.2 180.4L663.8 185.2L675.2 196.9L686.3 208.3L697.4 219.4L708.2 230.1L718.9 240.4L729.5 250.5"/>
<path d="M616.0 74.0L621.5 80.5L626.9 86.8L632.3 93.0L637.7 99.2L643.0 105.2L648.3 111.1L653.5 116.9L658.7 122.7L663.9 128.3L669.0 133.9L674.1 139.4L679.2 144.7L684.2 150.1L689.2 155.3L694.2 160.5L699.1 165.5L704.0 170.6L708.8 175.5L713.7 180.4L718.5 185.2"/>
<path d="M666.0 74.0L671.8 80.5L677.5 86.8L683.1 93.0L688.7 99.2L694.3 105.2L699.8 111.1L705.3 116.9L710.7 122.7L716.1 128.3L721.5 133.9"/>
<path d="M685.3 39.8L716.0 74.0"/>
</g>
<g fill="#d2b48c" font-size="15.4" text-anchor="middle" stroke="#d2b48c" stroke-width="0.3">
<text transform="translate(75.5 821.5) rotate(58)" dy="5.3">-30</text>
<text transform="translate(77.2 724.6) rotate(58)" dy="5.3">-20</text>
<text transform="translate(78.7 628.8) rotate(58)" dy="5.3">-10</text>
<text transform="translate(80.1 531.1) rotate(58)" dy="5.3">0</text>
<text transform="translate(79.2 429.6) rotate(58)" dy="5.3">10</text>
<text transform="translate(80.9 330.1) rotate(58)" dy="5.3">20</text>
<text transform="translate(80.9 225.3) rotate(58)" dy="5.3">30</text>
<text transform="translate(83.0 118.7) rotate(58)" dy="5.3">40</text>
<text transform="translate(106.9 57.3) rotate(58)" dy="5.3">50</text>
<text transform="translate(156.3 57.3) rotate(58)" dy="5.3">60</text>
<text transform="translate(205.6 57.3) rotate(58)" dy="5.3">70</text>
<text transform="translate(255.0 57.3) rotate(58)" dy="5.3">80</text>
<text transform="translate(304.3 57.3) rotate(58)" dy="5.3">90</text>
<text transform="translate(353.7 57.3) rotate(58)" dy="5.3">100</text>
<text transform="translate(403.0 57.3) rotate(58)" dy="5.3">110</text>
<text transform="translate(452.4 57.3) rotate(58)" dy="5.3">120</text>
<text transform="translate(501.7 57.3) rotate(58)" dy="5.3">130</text>
<text transform="translate(551.1 57.3) rotate(58)" dy="5.3">140</text>
<text transform="translate(600.4 57.3) rotate(58)" dy="5.3">150</text>
<text transform="translate(649.8 57.3) rotate(58)" dy="5.3">160</text>
</g>
<g clip-path="url(#cr)" fill="none" stroke="#00ff00" stroke-linecap="round" stroke-linejoin="round" stroke-width="4.0">
<path d="M701.0 882.8L700.9 879.4L700.8 875.9L700.7 872.4L700.6 868.9L700.6 865.3L700.5 861.7L700.4 858.1L700.4 854.4L700.3 850.7L700.3 846.9L700.3 843.1L700.2 839.3L700.2 835.4L700.2 831.5L700.2 827.5L700.2 823.5L700.2 819.5L700.2 815.4L700.2 811.2L700.2 807.0L700.2 802.8L700.2 798.5L700.3 794.2L700.3 789.8L700.3 785.3L700.4 780.8L700.4 776.2L700.4 771.6L700.5 766.9L700.5 762.2L700.6 757.4L700.6 752.5L700.6 747.5L700.7 742.5L700.7 737.4L700.7 732.3L700.8 727.0L700.9 721.7L700.9 716.3L701.0 710.9L701.1 705.3L701.2 699.7L701.3 693.9L701.4 688.1L701.5 682.2L701.6 676.2L701.6 670.0L701.7 663.8L701.8 657.4L701.9 651.0L701.9 644.4L702.0 637.7L702.0 630.9L702.0 623.9L702.0 616.8L701.9 609.6L701.9 602.2L701.8 594.6L701.6 586.9L701.4 579.0L701.2 571.0L700.9 562.7L700.5 554.3L700.1 545.7L699.5 536.8L698.9 527.7L698.1 518.4L697.2 508.9L696.2 499.0L695.0 488.9L693.7 478.6L692.1 467.9L690.2 456.8L688.2 445.4L685.8 433.7L683.0 421.5L679.9 408.9L676.3 395.9L672.3 382.4L667.6 368.3L662.4 353.7L656.5 338.4"/>
<path d="M664.2 882.8L664.0 879.4L663.7 875.9L663.5 872.4L663.2 868.9L663.0 865.3L662.7 861.7L662.5 858.1L662.3 854.4L662.1 850.7L661.9 846.9L661.7 843.1L661.4 839.3L661.2 835.4L661.0 831.5L660.8 827.5L660.6 823.5L660.5 819.5L660.3 815.4L660.1 811.2L659.9 807.0L659.7 802.8L659.5 798.5L659.3 794.2L659.0 789.8L658.8 785.3L658.6 780.8L658.4 776.2L658.2 771.6L658.1 766.9L657.9 762.2L657.7 757.4L657.5 752.5L657.3 747.5L657.1 742.5L657.0 737.4L656.8 732.3L656.6 727.0L656.3 721.7L656.1 716.3L655.9 710.9L655.6 705.3L655.4 699.7L655.1 693.9L654.8 688.1L654.4 682.2L654.1 676.2L653.7 670.0L653.2 663.8L652.8 657.4L652.3 651.0L651.7 644.4L651.1 637.7L650.5 630.9L649.7 623.9L649.0 616.8L648.1 609.6L647.2 602.2L646.1 594.6L645.0 586.9L643.7 579.0L642.4 571.0L640.9 562.7L639.2 554.3L637.4 545.7L635.5 536.8L633.3 527.7L630.9 518.4L628.3 508.9L625.4 499.0L622.2 488.9L618.8 478.6L615.0 467.9L610.8 456.8L606.2 445.4L601.2 433.7L595.7 421.5L589.7 408.9L583.2 395.9L576.1 382.4L568.3 368.3L559.9 353.7L550.8 338.4"/>
<path d="M627.6 882.8L627.2 879.4L626.7 875.9L626.3 872.4L625.8 868.9L625.4 865.3L625.0 861.7L624.5 858.1L624.1 854.4L623.6 850.7L623.2 846.9L622.8 843.1L622.3 839.3L621.9 835.4L621.5 831.5L621.0 827.5L620.6 823.5L620.2 819.5L619.8 815.4L619.3 811.2L618.9 807.0L618.5 802.8L618.1 798.5L617.7 794.2L617.3 789.8L616.9 785.3L616.4 780.8L616.0 776.2L615.6 771.6L615.1 766.9L614.7 762.2L614.2 757.4L613.7 752.5L613.2 747.5L612.7 742.5L612.1 737.4L611.6 732.3L611.0 727.0L610.3 721.7L609.7 716.3L609.0 710.9L608.3 705.3L607.5 699.7L606.7 693.9L605.8 688.1L604.9 682.2L604.0 676.2L602.9 670.0L601.8 663.8L600.7 657.4L599.4 651.0L598.1 644.4L596.7 637.7L595.1 630.9L593.5 623.9L591.7 616.8L589.9 609.6L587.8 602.2L585.7 594.6L583.3 586.9L580.8 579.0L578.2 571.0L575.3 562.7L572.2 554.3L568.8 545.7L565.3 536.8L561.4 527.7L557.3 518.4L552.9 508.9L548.1 499.0L543.0 488.9L537.6 478.6L531.7 467.9L525.5 456.8L518.8 445.4L511.7 433.7L504.1 421.5L496.1 408.9L487.6 395.9L478.5 382.4L468.9 368.3L458.8 353.7L448.1 338.4"/>
<path d="M591.0 882.8L590.4 879.4L589.8 875.9L589.1 872.4L588.5 868.9L587.8 865.3L587.1 861.7L586.5 858.1L585.8 854.4L585.2 850.7L584.5 846.9L583.8 843.1L583.2 839.3L582.5 835.4L581.9 831.5L581.2 827.5L580.6 823.5L579.9 819.5L579.2 815.4L578.6 811.2L577.9 807.0L577.2 802.8L576.5 798.5L575.7 794.2L575.0 789.8L574.3 785.3L573.5 780.8L572.7 776.2L571.9 771.6L571.1 766.9L570.2 762.2L569.3 757.4L568.4 752.5L567.5 747.5L566.5 742.5L565.5 737.4L564.4 732.3L563.3 727.0L562.1 721.7L560.9 716.3L559.7 710.9L558.3 705.3L556.9 699.7L555.4 693.9L553.9 688.1L552.3 682.2L550.5 676.2L548.7 670.0L546.8 663.8L544.8 657.4L542.6 651.0L540.4 644.4L538.0 637.7L535.4 630.9L532.8 623.9L529.9 616.8L526.9 609.6L523.7 602.2L520.3 594.6L516.8 586.9L513.0 579.0L509.0 571.0L504.7 562.7L500.2 554.3L495.5 545.7L490.5 536.8L485.2 527.7L479.6 518.4L473.7 508.9L467.5 499.0L461.0 488.9L454.1 478.6L446.9 467.9L439.4 456.8L431.5 445.4L423.2 433.7L414.6 421.5L405.5 408.9L396.1 395.9L386.3 382.4L376.1 368.3L365.5 353.7L354.4 338.4"/>
<path d="M554.2 882.8L553.4 879.4L552.6 875.9L551.8 872.4L551.0 868.9L550.2 865.3L549.4 861.7L548.6 858.1L547.7 854.4L546.9 850.7L546.0 846.9L545.2 843.1L544.3 839.3L543.4 835.4L542.4 831.5L541.5 827.5L540.5 823.5L539.5 819.5L538.4 815.4L537.4 811.2L536.3 807.0L535.3 802.8L534.2 798.5L533.0 794.2L531.9 789.8L530.7 785.3L529.5 780.8L528.2 776.2L527.0 771.6L525.6 766.9L524.3 762.2L522.9 757.4L521.4 752.5L519.9 747.5L518.3 742.5L516.7 737.4L515.0 732.3L513.3 727.0L511.4 721.7L509.5 716.3L507.6 710.9L505.5 705.3L503.3 699.7L501.1 693.9L498.7 688.1L496.3 682.2L493.7 676.2L491.0 670.0L488.2 663.8L485.2 657.4L482.1 651.0L478.9 644.4L475.5 637.7L472.0 630.9L468.2 623.9L464.4 616.8L460.3 609.6L456.0 602.2L451.6 594.6L446.9 586.9L442.0 579.0L436.9 571.0L431.6 562.7L426.1 554.3L420.3 545.7L414.3 536.8L408.0 527.7L401.5 518.4L394.7 508.9L387.6 499.0L380.3 488.9L372.8 478.6L364.9 467.9L356.8 456.8L348.4 445.4L339.7 433.7L330.7 421.5L321.5 408.9L311.9 395.9L302.0 382.4L291.9 368.3L281.4 353.7L270.6 338.4"/>
<path d="M517.8 882.8L516.8 879.4L515.8 875.9L514.7 872.4L513.7 868.9L512.6 865.3L511.6 861.7L510.5 858.1L509.4 854.4L508.2 850.7L507.1 846.9L505.9 843.1L504.7 839.3L503.5 835.4L502.3 831.5L501.0 827.5L499.7 823.5L498.4 819.5L497.0 815.4L495.6 811.2L494.2 807.0L492.7 802.8L491.2 798.5L489.6 794.2L488.0 789.8L486.3 785.3L484.5 780.8L482.7 776.2L480.9 771.6L479.0 766.9L477.0 762.2L475.0 757.4L472.9 752.5L470.7 747.5L468.5 742.5L466.2 737.4L463.8 732.3L461.3 727.0L458.8 721.7L456.1 716.3L453.4 710.9L450.5 705.3L447.6 699.7L444.5 693.9L441.3 688.1L438.1 682.2L434.6 676.2L431.1 670.0L427.4 663.8L423.6 657.4L419.6 651.0L415.5 644.4L411.3 637.7L406.8 630.9L402.3 623.9L397.5 616.8L392.6 609.6L387.5 602.2L382.3 594.6L376.8 586.9L371.2 579.0L365.4 571.0L359.4 562.7L353.2 554.3L346.8 545.7L340.3 536.8L333.5 527.7L326.5 518.4L319.3 508.9L312.0 499.0L304.4 488.9L296.6 478.6L288.5 467.9L280.3 456.8L271.9 445.4L263.2 433.7L254.3 421.5L245.2 408.9L235.9 395.9L226.3 382.4L216.5 368.3L206.5 353.7L196.2 338.4"/>
<path d="M481.6 882.8L480.4 879.4L479.1 875.9L477.8 872.4L476.4 868.9L475.1 865.3L473.7 861.7L472.3 858.1L470.8 854.4L469.3 850.7L467.8 846.9L466.3 843.1L464.8 839.3L463.2 835.4L461.5 831.5L459.9 827.5L458.1 823.5L456.4 819.5L454.6 815.4L452.8 811.2L450.9 807.0L448.9 802.8L446.9 798.5L444.9 794.2L442.8 789.8L440.6 785.3L438.4 780.8L436.1 776.2L433.8 771.6L431.3 766.9L428.8 762.2L426.3 757.4L423.6 752.5L420.8 747.5L418.0 742.5L415.1 737.4L412.1 732.3L409.0 727.0L405.7 721.7L402.4 716.3L399.0 710.9L395.4 705.3L391.8 699.7L388.0 693.9L384.1 688.1L380.1 682.2L376.0 676.2L371.7 670.0L367.3 663.8L362.9 657.4L358.2 651.0L353.5 644.4L348.6 637.7L343.5 630.9L338.4 623.9L333.1 616.8L327.6 609.6L322.0 602.2L316.3 594.6L310.4 586.9L304.4 579.0L298.2 571.0L291.9 562.7L285.4 554.3L278.8 545.7L272.0 536.8L265.0 527.7L257.9 518.4L250.7 508.9L243.3 499.0L235.7 488.9L227.9 478.6L220.0 467.9L211.9 456.8L203.6 445.4L195.2 433.7L186.6 421.5L177.8 408.9L168.9 395.9L159.8 382.4L150.5 368.3L141.0 353.7L131.4 338.4"/>
</g>
<g fill="#00ff00" font-size="20.6" text-anchor="middle" stroke="#00ff00" stroke-width="0.45">
<text x="656.9" y="337.9">32</text>
<text x="551.2" y="337.9">28</text>
<text x="448.5" y="337.9">24</text>
<text x="354.8" y="337.9">20</text>
<text x="271.0" y="337.9">16</text>
<text x="196.6" y="337.9">12</text>
<text x="131.8" y="337.9">8</text>
</g>
<g clip-path="url(#cf)" fill="none" stroke="#d2b48c" stroke-width="2.3" stroke-linejoin="round">
<path d="M536.8 870.0L524.3 848.7L512.0 827.0L499.9 805.2L488.0 783.0L476.3 760.7L464.8 738.0L453.6 715.1L442.6 691.8L431.9 668.3L421.4 644.5L411.2 620.4L401.2 596.0L391.5 571.3L382.1 546.2L373.0 520.8L364.1 495.0L355.6 468.9L347.3 442.4L339.4 415.6L331.8 388.3L324.6 360.7L317.7 332.6L341.5 304.4L365.3 276.1L389.1 247.8L412.9 219.6L436.7 191.3L460.5 163.0L484.3 134.8L508.1 106.5L531.9 78.3L555.8 50.0L564.3 39.8"/>
<path d="M331.4 387.6L321.9 328.2"/>
</g>
<g clip-path="url(#cr)" fill="none" stroke-width="6.4" stroke-linejoin="round" stroke-linecap="round">
<path stroke="#000" d="M505.0 30.0L500.3 39.4L488.8 63.4L476.3 84.8L458.5 106.3L420.9 139.7L376.0 172.1L345.4 203.8L316.0 271.0L318.3 300.3L327.8 330.4L345.4 363.0L364.0 392.4L388.1 421.7L402.7 446.7L407.4 459.3L414.4 482.8L416.9 509.1L424.4 536.7L440.8 560.9L504.5 640.3L519.1 665.4L533.8 714.5L532.1 737.6L528.5 764.8L520.2 781.5L509.7 792.0L513.9 806.6L523.3 821.2L529.9 831.9L532.1 837.5L532.7 843.1L531.8 848.7L529.5 854.3L526.1 858.5L518.7 861.8L507.4 864.6L494.3 866.5"/>
<path stroke="#0000ff" d="M345.9 30.0L338.4 40.0L228.1 172.1L231.3 205.5L256.9 236.7L280.0 272.0L280.9 300.3L277.9 334.2L292.7 364.3L324.1 394.4L337.9 422.6L365.5 456.4L391.8 479.7L406.8 507.8L395.5 535.4L347.0 561.0L258.9 588.1L238.0 640.8L267.6 666.6L305.3 690.4L296.5 716.7L368.0 739.3L454.3 763.7L496.1 781.5L508.7 795.1L512.9 807.6L504.5 823.3L492.0 835.8L477.5 846.9L472.6 851.5L470.9 854.5L471.8 859.0L476.5 863.7L484.9 867.1"/>
</g>
<polygon points="69.3,882.8 69.3,39.8 723.5,39.8 723.5,536.9 871.4,696.7 871.4,882.8" fill="none" stroke="#000" stroke-width="1.35"/>
<path d="M68.6 39.8V39.8H724.2" fill="none" stroke="#000" stroke-width="1.9" stroke-linejoin="miter"/>
<g fill="#000" font-size="22.8" text-anchor="end" stroke="#000" stroke-width="0.25">
<text transform="translate(54.5 47.9) scale(0.955 1)">100</text>
<text transform="translate(54.5 193.3) scale(0.955 1)">150</text>
<text transform="translate(54.5 296.4) scale(0.955 1)">200</text>
<text transform="translate(54.5 376.4) scale(0.955 1)">250</text>
<text transform="translate(54.5 441.8) scale(0.955 1)">300</text>
<text transform="translate(54.5 544.9) scale(0.955 1)">400</text>
<text transform="translate(54.5 624.9) scale(0.955 1)">500</text>
<text transform="translate(54.5 745.5) scale(0.955 1)">700</text>
<text transform="translate(54.5 815.1) scale(0.955 1)">850</text>
<text transform="translate(54.5 873.4) scale(0.955 1)">1000</text>
</g>
<g stroke="#000" stroke-width="2" stroke-linecap="round">
<path d="M68.1 185.2h1"/>
<path d="M68.1 288.3h1"/>
<path d="M68.1 368.3h1"/>
<path d="M68.1 433.7h1"/>
<path d="M68.1 536.8h1"/>
<path d="M68.1 616.8h1"/>
<path d="M68.1 737.4h1"/>
<path d="M68.1 807.0h1"/>
<path d="M68.1 865.3h1"/>
</g>
<text transform="translate(14.9 484) rotate(-90)" text-anchor="middle" font-size="20.2" fill="#000" stroke="#000" stroke-width="0.2" textLength="64.3" lengthAdjust="spacingAndGlyphs">P (hPa)</text>
<g stroke="#000" stroke-width="4.6" stroke-linecap="round">
<path d="M103.3 884.3V893.8"/>
<path d="M197.2 884.3V893.8"/>
<path d="M291.2 884.3V893.8"/>
<path d="M385.2 884.3V893.8"/>
<path d="M479.1 884.3V893.8"/>
<path d="M573.1 884.3V893.8"/>
<path d="M667.0 884.3V893.8"/>
<path d="M761.0 884.3V893.8"/>
</g>
<g fill="#000" font-size="22.8" text-anchor="middle" stroke="#000" stroke-width="0.25">
<text transform="translate(102.9 926.1) scale(0.955 1)">-30</text>
<text transform="translate(196.8 926.1) scale(0.955 1)">-20</text>
<text transform="translate(290.8 926.1) scale(0.955 1)">-10</text>
<text transform="translate(385.2 926.1) scale(0.955 1)">0</text>
<text transform="translate(479.1 926.1) scale(0.955 1)">10</text>
<text transform="translate(573.1 926.1) scale(0.955 1)">20</text>
<text transform="translate(667.0 926.1) scale(0.955 1)">30</text>
<text transform="translate(761.0 926.1) scale(0.955 1)">40</text>
</g>
<text x="491.4" y="952.2" text-anchor="middle" font-size="20" fill="#000" stroke="#000" stroke-width="0.2" textLength="142.5" lengthAdjust="spacingAndGlyphs">Temperature (C)</text>
<text x="121.8" y="17.3" font-size="22.6" fill="#a0522d" stroke="#a0522d" stroke-width="0.2" textLength="517.5" lengthAdjust="spacingAndGlyphs">Plcl=936 Tlcl[C]=7 Shox=6 Pwat[cm]=2 Cape[J]= 0</text>
<path d="M912.7 38.6V884.0" stroke="#000" stroke-width="2.6"/>
<g stroke="#000" stroke-width="4.4" stroke-linecap="round">
<path d="M912.7 870.0H923.9"/>
<path d="M912.7 827.0H923.9"/>
<path d="M912.7 783.0H923.9"/>
<path d="M912.7 737.9H923.9"/>
<path d="M912.7 691.8H923.9"/>
<path d="M912.7 644.5H923.9"/>
<path d="M912.7 595.9H923.9"/>
<path d="M912.7 546.1H923.9"/>
<path d="M912.7 495.0H923.9"/>
<path d="M912.7 442.2H923.9"/>
<path d="M912.7 388.1H923.9"/>
<path d="M912.7 332.6H923.9"/>
<path d="M912.7 277.3H923.9"/>
<path d="M912.7 220.1H923.9"/>
<path d="M912.7 163.9H923.9"/>
<path d="M912.7 107.7H923.9"/>
<path d="M912.7 51.5H923.9"/>
</g>
<g fill="#000" font-size="22.8" stroke="#000" stroke-width="0.25">
<text transform="translate(938.4 878.0) scale(0.955 1)">0</text>
<text transform="translate(938.4 835.0) scale(0.955 1)">1</text>
<text transform="translate(938.4 791.0) scale(0.955 1)">2</text>
<text transform="translate(938.4 745.9) scale(0.955 1)">3</text>
<text transform="translate(938.4 699.8) scale(0.955 1)">4</text>
<text transform="translate(938.4 652.5) scale(0.955 1)">5</text>
<text transform="translate(938.4 603.9) scale(0.955 1)">6</text>
<text transform="translate(938.4 554.1) scale(0.955 1)">7</text>
<text transform="translate(938.4 503.0) scale(0.955 1)">8</text>
<text transform="translate(938.4 450.2) scale(0.955 1)">9</text>
<text transform="translate(938.4 396.1) scale(0.955 1)">10</text>
<text transform="translate(938.4 340.6) scale(0.955 1)">11</text>
<text transform="translate(938.4 285.3) scale(0.955 1)">12</text>
<text transform="translate(938.4 228.1) scale(0.955 1)">13</text>
<text transform="translate(938.4 171.9) scale(0.955 1)">14</text>
<text transform="translate(938.4 115.7) scale(0.955 1)">15</text>
<text transform="translate(938.4 59.5) scale(0.955 1)">16</text>
</g>
<text transform="translate(888.3 489.5) rotate(90)" text-anchor="middle" font-size="22.4" fill="#000" stroke="#000" stroke-width="0.2" textLength="114" lengthAdjust="spacingAndGlyphs">Height (Km)</text>
<path d="M818.7 39.8V870.5" stroke="#000" stroke-width="1.5"/>
<g fill="#000">
<circle cx="818.7" cy="94.2" r="4.5"/>
<circle cx="818.7" cy="179.5" r="4.5"/>
<circle cx="818.7" cy="266.5" r="4.5"/>
<circle cx="818.7" cy="351.4" r="4.5"/>
<circle cx="818.7" cy="434.3" r="4.5"/>
<circle cx="818.7" cy="514.7" r="4.5"/>
<circle cx="818.7" cy="591.4" r="4.5"/>
<circle cx="818.7" cy="620.9" r="4.5"/>
<circle cx="818.7" cy="650.6" r="4.5"/>
<circle cx="818.7" cy="679.4" r="4.5"/>
<circle cx="818.7" cy="708.0" r="4.5"/>
<circle cx="818.7" cy="736.9" r="4.5"/>
<circle cx="818.7" cy="750.1" r="4.5"/>
<circle cx="818.7" cy="763.8" r="4.5"/>
<circle cx="818.7" cy="777.4" r="4.5"/>
<circle cx="818.7" cy="790.9" r="4.5"/>
<circle cx="818.7" cy="804.7" r="4.5"/>
<circle cx="818.7" cy="818.0" r="4.5"/>
<circle cx="818.7" cy="831.3" r="4.5"/>
<circle cx="818.7" cy="844.6" r="4.5"/>
<circle cx="818.7" cy="858.0" r="4.5"/>
<circle cx="818.7" cy="869.7" r="4.5"/>
</g>
<g fill="none" stroke="#000" stroke-width="1">
<circle cx="818.7" cy="185.4" r="3.8"/>
<circle cx="818.7" cy="288.5" r="3.8"/>
<circle cx="818.7" cy="368.5" r="3.8"/>
<circle cx="818.7" cy="537.0" r="3.8"/>
<circle cx="818.7" cy="616.6" r="3.8"/>
<circle cx="818.7" cy="807.4" r="3.8"/>
<circle cx="818.7" cy="865.6" r="3.8"/>
<path d="M814.9 40.4 a3.8 3.8 0 0 0 7.6 0"/>
</g>
<g fill="none" stroke="#000" stroke-width="1.4" stroke-linejoin="miter"><path d="M818.7 40.2L785.4 19.1"/><path d="M785.4 19.1l1.6 -14.1"/><path d="M788.7 21.2l1.6 -14.1"/><path d="M792.0 23.3l1.6 -14.1"/><path d="M795.3 25.4l1.6 -14.1"/></g>
<g fill="none" stroke="#000" stroke-width="1.5" stroke-linejoin="miter"><path d="M818.7 104.9L782.6 78.8"/><polygon points="782.6 78.8 787.9 82.7 789.3 70.0" fill="#000"/></g>
<g fill="none" stroke="#000" stroke-width="1.5" stroke-linejoin="miter"><path d="M818.7 171.8L781.9 145.3"/><polygon points="781.9 145.3 787.3 149.2 788.2 137.3" fill="#000"/><path d="M789.9 151.1l0.8 -5.5"/></g>
<g fill="none" stroke="#000" stroke-width="1.5" stroke-linejoin="miter"><path d="M818.7 238.0L784.0 208.8"/><polygon points="784.0 208.8 789.0 213.0 790.9 201.0" fill="#000"/><path d="M791.6 215.2l2.6 -11.3"/></g>
<g fill="none" stroke="#000" stroke-width="1.5" stroke-linejoin="miter"><path d="M818.7 302.1L784.0 273.4"/><polygon points="784.0 273.4 789.1 277.6 790.9 265.1" fill="#000"/><path d="M791.6 279.7l2.5 -11.3"/><path d="M794.6 282.2l2.5 -11.3"/><path d="M797.6 284.7l2.5 -11.3"/></g>
<g fill="none" stroke="#000" stroke-width="1.5" stroke-linejoin="miter"><path d="M818.7 362.9L780.9 339.3"/><polygon points="780.9 339.3 786.5 342.8 786.8 330.3" fill="#000"/><path d="M789.3 344.5l1.0 -11.6"/><path d="M792.6 346.6l0.5 -5.5"/></g>
<g fill="none" stroke="#000" stroke-width="1.5" stroke-linejoin="miter"><path d="M818.7 422.9L780.9 398.8"/><polygon points="780.9 398.8 786.5 402.3 786.1 389.4" fill="#000"/></g>
<g fill="none" stroke="#000" stroke-width="1.3" stroke-linejoin="miter"><path d="M818.7 480.2L780.5 470.2"/><path d="M780.5 470.2l-2.7 -13.0"/><path d="M784.3 471.2l-2.7 -13.0"/><path d="M788.0 472.2l-2.7 -13.0"/><path d="M791.8 473.2l-2.7 -13.0"/></g>
<g fill="none" stroke="#000" stroke-width="1.2" stroke-linejoin="miter"><path d="M818.7 535.6L779.9 538.1"/><path d="M779.9 538.1l-7.3 -11.5"/><path d="M783.8 537.8l-7.3 -11.5"/><path d="M787.7 537.6l-7.3 -11.5"/></g>
<g fill="none" stroke="#000" stroke-width="1.2" stroke-linejoin="miter"><path d="M818.7 588.9L779.9 591.4"/><path d="M779.9 591.4l-6.9 -11.5"/><path d="M783.8 591.1l-6.9 -11.5"/><path d="M787.7 590.9l-6.9 -11.5"/></g>
<g fill="none" stroke="#000" stroke-width="1.2" stroke-linejoin="miter"><path d="M818.7 640.8L779.9 647.6"/><path d="M779.9 647.6l-7.3 -10.0"/><path d="M783.7 646.9l-7.3 -10.0"/><path d="M787.6 646.3l-3.5 -4.8"/></g>
<g fill="none" stroke="#000" stroke-width="1.2" stroke-linejoin="miter"><path d="M818.7 691.5L781.9 706.2"/><path d="M781.9 706.2l-9.4 -9.0"/><path d="M785.5 704.8l-4.5 -4.3"/></g>
<g fill="none" stroke="#000" stroke-width="1.2" stroke-linejoin="miter"><path d="M818.7 740.4L787.8 764.1"/><path d="M787.8 764.1l-12.7 -4.8"/><path d="M790.9 761.7l-6.1 -2.3"/></g>
<g fill="none" stroke="#000" stroke-width="1.2" stroke-linejoin="miter"><path d="M818.7 783.5L789.8 808.9"/><path d="M789.8 808.9l-12.9 -4.2"/><path d="M792.7 806.3l-12.9 -4.2"/></g>
<g fill="none" stroke="#000" stroke-width="1.2" stroke-linejoin="miter"><path d="M818.7 809.8L798.4 840.3"/><path d="M798.4 840.3l-14.1 -1.1"/><path d="M800.6 837.1l-6.8 -0.5"/></g>
<g fill="none" stroke="#000" stroke-width="1.2" stroke-linejoin="miter"><path d="M818.7 834.5L807.0 867.8"/><path d="M807.0 867.8l-12.5 1.9"/></g>
<g fill="none" stroke="#000" stroke-width="1.2" stroke-linejoin="miter"><path d="M818.7 849.3L798.4 881.5"/><path d="M798.4 881.5l-13.3 -0.5"/></g>
<g fill="none" stroke="#000" stroke-width="1.2" stroke-linejoin="miter"><path d="M818.7 860.3L793.7 890.1"/><path d="M793.7 890.1l-13.3 -2.8"/></g>
<g fill="none" stroke="#000" stroke-width="1.2" stroke-linejoin="miter"><path d="M818.7 869.7L815.6 905.8"/><path d="M815.9 901.8l-5.0 2.0"/></g>
</svg>
</body></html>
